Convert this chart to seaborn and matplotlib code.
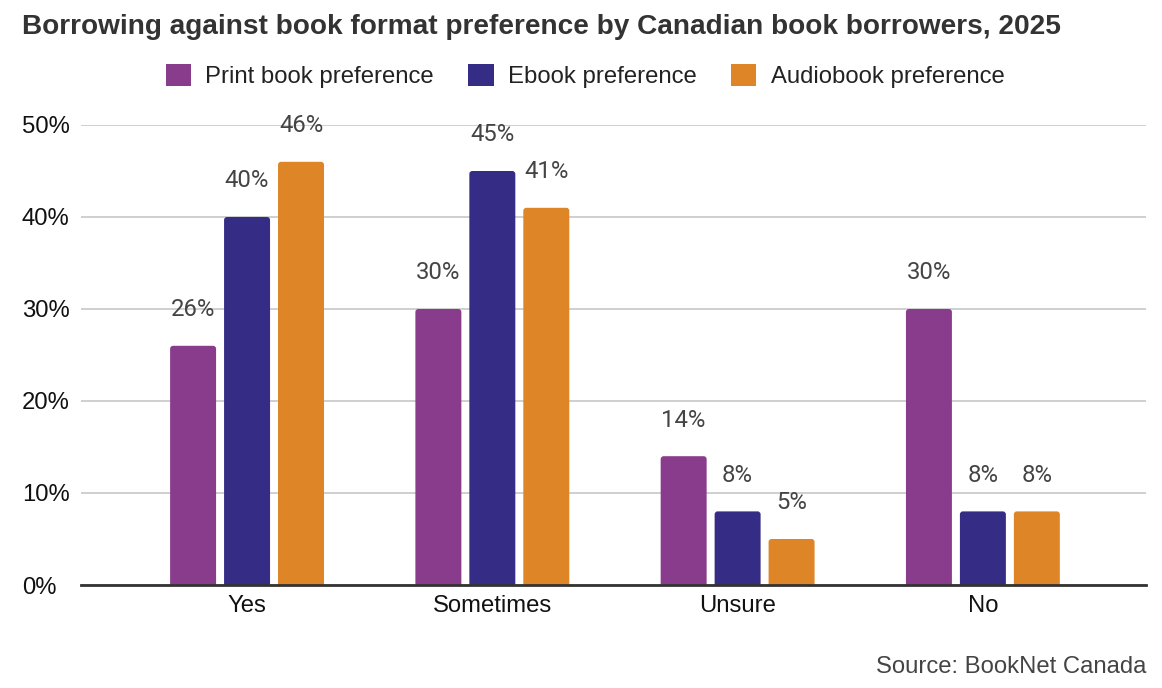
import matplotlib
matplotlib.use("Agg")
import matplotlib.pyplot as plt
import seaborn as sns
import pandas as pd
from matplotlib.patches import Patch, FancyBboxPatch

categories = ["Yes", "Sometimes", "Unsure", "No"]
series_names = ["Print book preference", "Ebook preference", "Audiobook preference"]
print_vals = [26, 30, 14, 30]
ebook_vals = [40, 45, 8, 8]
audio_vals = [46, 41, 5, 8]
y_ticks = [0, 10, 20, 30, 40, 50]
colors = ["#8A3C8C", "#342C85", "#DE8527"]

rows = []
for name, vals in zip(series_names, [print_vals, ebook_vals, audio_vals]):
    for c, v in zip(categories, vals):
        rows.append({"Response": c, "Format": name, "Value": v})
df = pd.DataFrame(rows)

sns.set_theme(style="white")
plt.rcParams["font.family"] = ["Liberation Sans", "DejaVu Sans"]

FS = 17.2

fig = plt.figure(figsize=(11.62, 6.88), dpi=100)
ax = fig.add_axes([81/1162, 1-585/688, (1146-81)/1162, (585-125)/688])

sns.barplot(data=df, x="Response", y="Value", hue="Format", order=categories,
            hue_order=series_names, palette=colors, width=0.66, gap=0.148,
            saturation=1, ax=ax, legend=False, linewidth=0)

ax.set_xlim(-0.677, 3.665)
ax.set_ylim(0, 50)

# rounded tops: replace each bar rectangle by a rounded box of same geometry
px_x = (1146 - 81) / (3.665 + 0.677)
px_y = (585 - 125) / 50
for cont in ax.containers:
    for bar in cont:
        x, w, h = bar.get_x(), bar.get_width(), bar.get_height()
        r = 3.0 / px_x
        fb = FancyBboxPatch((x, -1.0), w, h + 1.0,
                            boxstyle=f"round,pad=0,rounding_size={r}",
                            mutation_aspect=px_x / px_y,
                            facecolor=bar.get_facecolor(), edgecolor="none",
                            zorder=bar.get_zorder())
        ax.add_patch(fb)
        bar.set_visible(False)

ax.set_yticks(y_ticks)
ax.set_yticklabels([f"{t}%" for t in y_ticks])
ax.grid(axis="y", color="#cccccc", linewidth=1.3)
ax.set_axisbelow(True)
for s in ["top", "right", "left"]:
    ax.spines[s].set_visible(False)
ax.spines["bottom"].set_color("#333333")
ax.spines["bottom"].set_linewidth(2)
ax.spines["bottom"].set_zorder(5)
ax.tick_params(axis="both", length=0, labelsize=FS, labelcolor="#111111")
ax.tick_params(axis="x", pad=7)
for lbl in ax.get_yticklabels():
    lbl.set_horizontalalignment("left")
ax.yaxis.set_tick_params(pad=42.5)
ax.set_xlabel("")
ax.set_ylabel("")

for cont in ax.containers:
    for bar in cont:
        h = bar.get_height()
        ax.annotate(f"{h:.0f}%", (bar.get_x() + bar.get_width()/2, h),
                    xytext=(0, 26), textcoords="offset points",
                    ha="center", va="center", fontsize=FS, color="#444444",
                    family=["Roboto", "DejaVu Sans"], annotation_clip=False)

fig.text(22/1162, 1-27/688, "Borrowing against book format preference by Canadian book borrowers, 2025",
         fontsize=20.15, fontweight="bold", color="#333333", ha="left", va="center")

handles = [Patch(facecolor=c, edgecolor="none") for c in colors]
fig.legend(handles, series_names, loc="center", bbox_to_anchor=(0.5035, 1-76/688),
           ncol=3, frameon=False, fontsize=FS, handlelength=1.05, handleheight=1.05,
           handletextpad=0.6, columnspacing=1.45, labelcolor="#222222")

fig.text(1146/1162, 1-667/688, "Source: BookNet Canada", fontsize=FS, color="#444444",
         ha="right", va="center")

fig.savefig("out.png", dpi=100)
